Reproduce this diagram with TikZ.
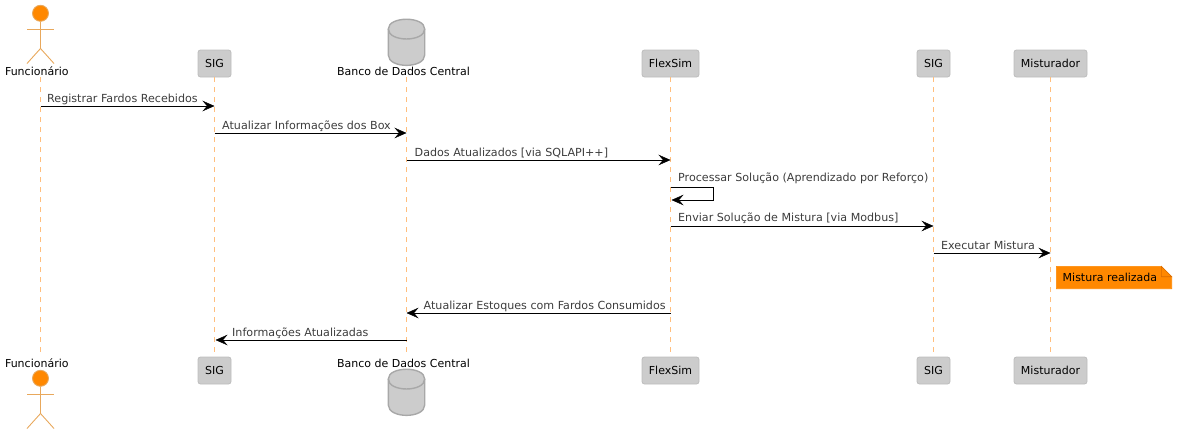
\documentclass[tikz,border=0pt]{standalone}
\usepackage{fontspec}
\setmainfont{DejaVu Sans}
\usetikzlibrary{arrows.meta}
\definecolor{orangefill}{HTML}{FF8800}
\definecolor{actorline}{HTML}{E8A85C}
\definecolor{lifeline}{HTML}{FFBE7D}
\definecolor{boxfill}{HTML}{CCCCCC}
\definecolor{boxline}{HTML}{BDBDBD}
\definecolor{dbline}{HTML}{A8A8A8}
\definecolor{msgtext}{HTML}{3C3C3C}
\tikzset{
  x=1pt,y=-1pt,
  partbox/.style={draw=boxline,fill=boxfill,rounded corners=2.5pt,line width=0.8pt,minimum height=27pt,inner xsep=0pt,inner ysep=0pt,font=\fontsize{11}{13}\selectfont,text=black},
  partlabel/.style={font=\fontsize{11}{13}\selectfont,text=black,inner sep=0pt,anchor=base},
  msglabel/.style={font=\fontsize{11.12}{13}\selectfont,text=msgtext,inner sep=0pt,anchor=base west},
  lifedash/.style={draw=lifeline,line width=1pt,dash pattern=on 5pt off 5pt},
  msg/.style={draw=black,line width=0.9pt,-{Stealth[length=12pt,width=10.5pt,inset=4.5pt,line width=0.4pt]}},
  actorstroke/.style={draw=actorline,line width=0.9pt},
  dbshape/.style={draw=dbline,fill=boxfill,line width=1.4pt},
  notebody/.style={fill=orangefill,draw=orangefill,line width=0.6pt},
  notefold/.style={draw=orange!85!black,line width=0.6pt},
}
\begin{document}
\begin{tikzpicture}
\useasboundingbox (0,0) rectangle (1177,434);
% participant anchors
\coordinate (funT) at (40.5,77);
\coordinate (funB) at (40.5,352);
\node[partbox,minimum width=33pt] (sigaT) at (214.5,63.5) {SIG};
\node[partbox,minimum width=33pt] (sigaB) at (214.5,370.5) {SIG};
\coordinate (dbT) at (406.5,77);
\coordinate (dbB) at (406.5,352);
\node[partbox,minimum width=57pt] (flexT) at (670.5,63.5) {FlexSim};
\node[partbox,minimum width=57pt] (flexB) at (670.5,370.5) {FlexSim};
\node[partbox,minimum width=33pt] (sigbT) at (933.5,63.5) {SIG};
\node[partbox,minimum width=33pt] (sigbB) at (933.5,370.5) {SIG};
\node[partbox,minimum width=73pt] (mixT) at (1050.5,63.5) {Misturador};
\node[partbox,minimum width=73pt] (mixB) at (1050.5,370.5) {Misturador};
% lifelines
\draw[lifedash] (funT) -- (funB);
\draw[lifedash] (sigaT.south) -- (sigaB.north);
\draw[lifedash] (dbT) -- (dbB);
\draw[lifedash] (flexT.south) -- (flexB.north);
\draw[lifedash] (sigbT.south) -- (sigbB.north);
\draw[lifedash] (mixT.south) -- (mixB.north);
% actor labels
\node[partlabel] (funLT) at (36.8,75) {Funcionário};
\node[partlabel] (funLB) at (36.8,367) {Funcionário};
\node[partlabel] (dbLT) at (403.5,75) {Banco de Dados Central};
\node[partlabel] (dbLB) at (403.5,367) {Banco de Dados Central};
% actors
\foreach \o in {0,365}{
  \begin{scope}[yshift=-\o pt]
  \draw[actorstroke,fill=orangefill] (40.5,13.3) circle (8);
  \draw[actorstroke] (40.5,21.5) -- (40.5,48.5);
  \draw[actorstroke] (27,29.3) -- (54,29.3);
  \draw[actorstroke] (27,63.5) -- (40.5,48.5) -- (54,63.5);
  \end{scope}
}
% databases
\foreach \o/\h in {0/0,350/0}{
  \begin{scope}[yshift=-\o pt]
  \draw[dbshape] (388.3,29) .. controls (388.3,16) and (424.7,16) .. (424.7,29)
     -- (424.7,55) .. controls (424.7,68.8) and (388.3,68.8) .. (388.3,55) -- cycle;
  \draw[dbshape,fill=none] (388.3,29) .. controls (388.3,42.3) and (424.7,42.3) .. (424.7,29);
  \end{scope}
}
% message rows
\coordinate (r1) at (0,106);
\coordinate (r2) at (0,133);
\coordinate (r3) at (0,160);
\coordinate (r4a) at (0,187);
\coordinate (r4b) at (0,200);
\coordinate (r5) at (0,226);
\coordinate (r6) at (0,253);
\coordinate (r7) at (0,313);
\coordinate (r8) at (0,340);
\coordinate (loop) at (713.5,0);
\draw[msg] (funT |- r1) -- (sigaT |- r1);
\draw[msg] (sigaT |- r2) -- (dbT |- r2);
\draw[msg] (dbT |- r3) -- (flexT |- r3);
\draw[msg] (flexT |- r4a) -- (loop |- r4a) -- (loop |- r4b) -- ([xshift=1pt]flexT |- r4b);
\draw[msg] (flexT |- r5) -- (sigbT |- r5);
\draw[msg] (sigbT |- r6) -- (mixT |- r6);
\draw[msg] (flexT |- r7) -- (dbT |- r7);
\draw[msg] (dbT |- r8) -- ([xshift=1pt]sigaT |- r8);
% message labels
\node[msglabel] (l1) at (47,102.5) {Registrar Fardos Recebidos};
\node[msglabel] (l2) at (222,129.5) {Atualizar Informações dos Box};
\node[msglabel] (l3) at (414.5,156.5) {Dados Atualizados [via SQLAPI++]};
\node[msglabel] (l4) at (678,181) {Processar Solução (Aprendizado por Reforço)};
\node[msglabel] (l5) at (678,221.5) {Enviar Solução de Mistura [via Modbus]};
\node[msglabel] (l6) at (941,249) {Executar Mistura};
\node[msglabel] (l7) at (423.5,309) {Atualizar Estoques com Fardos Consumidos};
\node[msglabel] (l8) at (232,336) {Informações Atualizadas};
% note
\fill[notebody] (1056.3,266.3) -- (1161.3,266.3) -- (1171.7,276.7) -- (1171.7,288.7) -- (1056.3,288.7) -- cycle;
\draw[notefold] (1161.3,266.3) -- (1161.3,276.7) -- (1171.7,276.7) -- cycle;
\node[partlabel,anchor=base west] (note) at (1062.5,281.5) {Mistura realizada};
\end{tikzpicture}
\end{document}
